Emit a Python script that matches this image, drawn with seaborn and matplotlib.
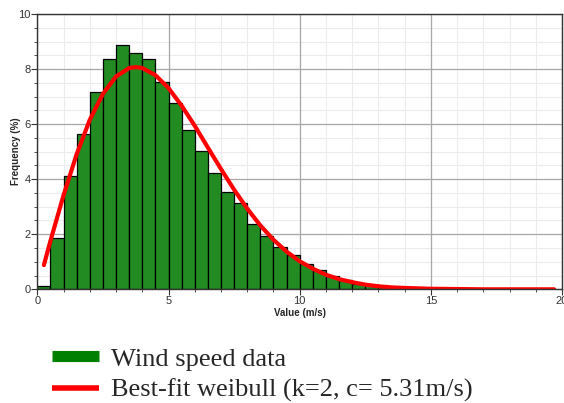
import numpy as np
import pandas as pd
import matplotlib
matplotlib.use('Agg')
import matplotlib.pyplot as plt
import seaborn as sns
from matplotlib.lines import Line2D
from matplotlib.ticker import MultipleLocator

# 直方图数据：0.5 m/s 一档
bin_edges = [0.0, 0.5, 1.0, 1.5, 2.0, 2.5, 3.0, 3.5, 4.0, 4.5, 5.0, 5.5, 6.0, 6.5,
             7.0, 7.5, 8.0, 8.5, 9.0, 9.5, 10.0, 10.5, 11.0, 11.5, 12.0, 12.5, 13.0,
             13.5, 14.0]
freq = [0.12, 1.88, 4.13, 5.64, 7.18, 8.38, 8.89, 8.59, 8.38, 7.53, 6.75, 5.80, 5.03,
        4.24, 3.52, 3.13, 2.39, 1.95, 1.54, 1.26, 0.92, 0.69, 0.50, 0.35, 0.21, 0.15,
        0.09, 0.05]

# 拟合曲线
fit_x = [0.25, 0.5, 1.0, 1.5, 2.0, 2.5, 3.0, 3.5, 3.75, 4.0, 4.5, 5.0, 5.5, 6.0, 6.5,
         7.0, 7.5, 8.0, 8.5, 9.0, 9.5, 10.0, 10.5, 11.0, 11.5, 12.0, 12.5, 13.0, 13.5,
         14.0, 15.0, 16.0, 17.0, 18.0, 19.0, 19.7]
fit_y = [0.88, 1.76, 3.42, 4.91, 6.16, 7.10, 7.73, 8.04, 8.07, 8.04, 7.78, 7.31, 6.67,
         5.94, 5.15, 4.37, 3.62, 2.93, 2.32, 1.80, 1.37, 1.02, 0.75, 0.53, 0.37, 0.26,
         0.17, 0.11, 0.07, 0.05, 0.02, 0.01, 0.0, 0.0, 0.0, 0.0]

centers = [(bin_edges[i] + bin_edges[i + 1]) / 2 for i in range(len(freq))]
df = pd.DataFrame({'speed': centers, 'freq': freq})
fit = pd.DataFrame({'x': fit_x, 'y': fit_y})

sns.set_style('white')
plt.rcParams['font.family'] = ['Liberation Sans', 'DejaVu Sans']

fig = plt.figure(figsize=(5.64, 4.03), dpi=100)
ax = fig.add_axes([0.0662, 0.2821, 0.9303, 0.6831])

ax.xaxis.set_major_locator(MultipleLocator(5))
ax.xaxis.set_minor_locator(MultipleLocator(1))
ax.yaxis.set_major_locator(MultipleLocator(2))
ax.yaxis.set_minor_locator(MultipleLocator(0.5))
# 细网格放在最底层，免得盖住主网格
ax.vlines(np.arange(1, 20, 1), 0, 10, colors='#ececec', lw=0.8, zorder=0.2)
ax.hlines(np.arange(0.5, 10, 0.5), 0, 20, colors='#ececec', lw=0.8, zorder=0.2)
ax.grid(which='major', color='#a8a8a8', lw=0.9, ls='-')
ax.set_axisbelow(True)

sns.histplot(data=df, x='speed', weights='freq', bins=bin_edges, color='#228B22',
             edgecolor='black', linewidth=0.9, alpha=1, ax=ax)
sns.lineplot(data=fit, x='x', y='y', color='#ff0000', lw=3, ax=ax)

ax.set_xlim(0, 20)
ax.set_ylim(0, 10)
ax.set_xlabel('Value (m/s)', fontsize=7, fontweight='bold', labelpad=1.5)
ax.set_ylabel('Frequency (%)', fontsize=7, fontweight='bold', labelpad=-2)
ax.tick_params(which='major', labelsize=8, labelcolor='#333333', length=4,
               color='#333333', bottom=True, left=True, pad=1)
ax.tick_params(which='minor', length=2, color='#333333', bottom=True, left=True)
for s in ax.spines.values():
    s.set_color('#333333')
    s.set_linewidth(1)

handles = [Line2D([0], [0], color='#008000', lw=8, solid_capstyle='butt'),
           Line2D([0], [0], color='#ff0000', lw=4, solid_capstyle='butt')]
labels = ['Wind speed data', 'Best-fit weibull (k=2, c= 5.31m/s)']
fig.legend(handles, labels, loc='upper left', bbox_to_anchor=(0.073, 0.165),
           frameon=False, handlelength=1.8, handletextpad=0.45, labelspacing=0.3,
           borderaxespad=0, prop={'family': 'Liberation Serif', 'size': 19})

fig.savefig('out.png', dpi=100)
